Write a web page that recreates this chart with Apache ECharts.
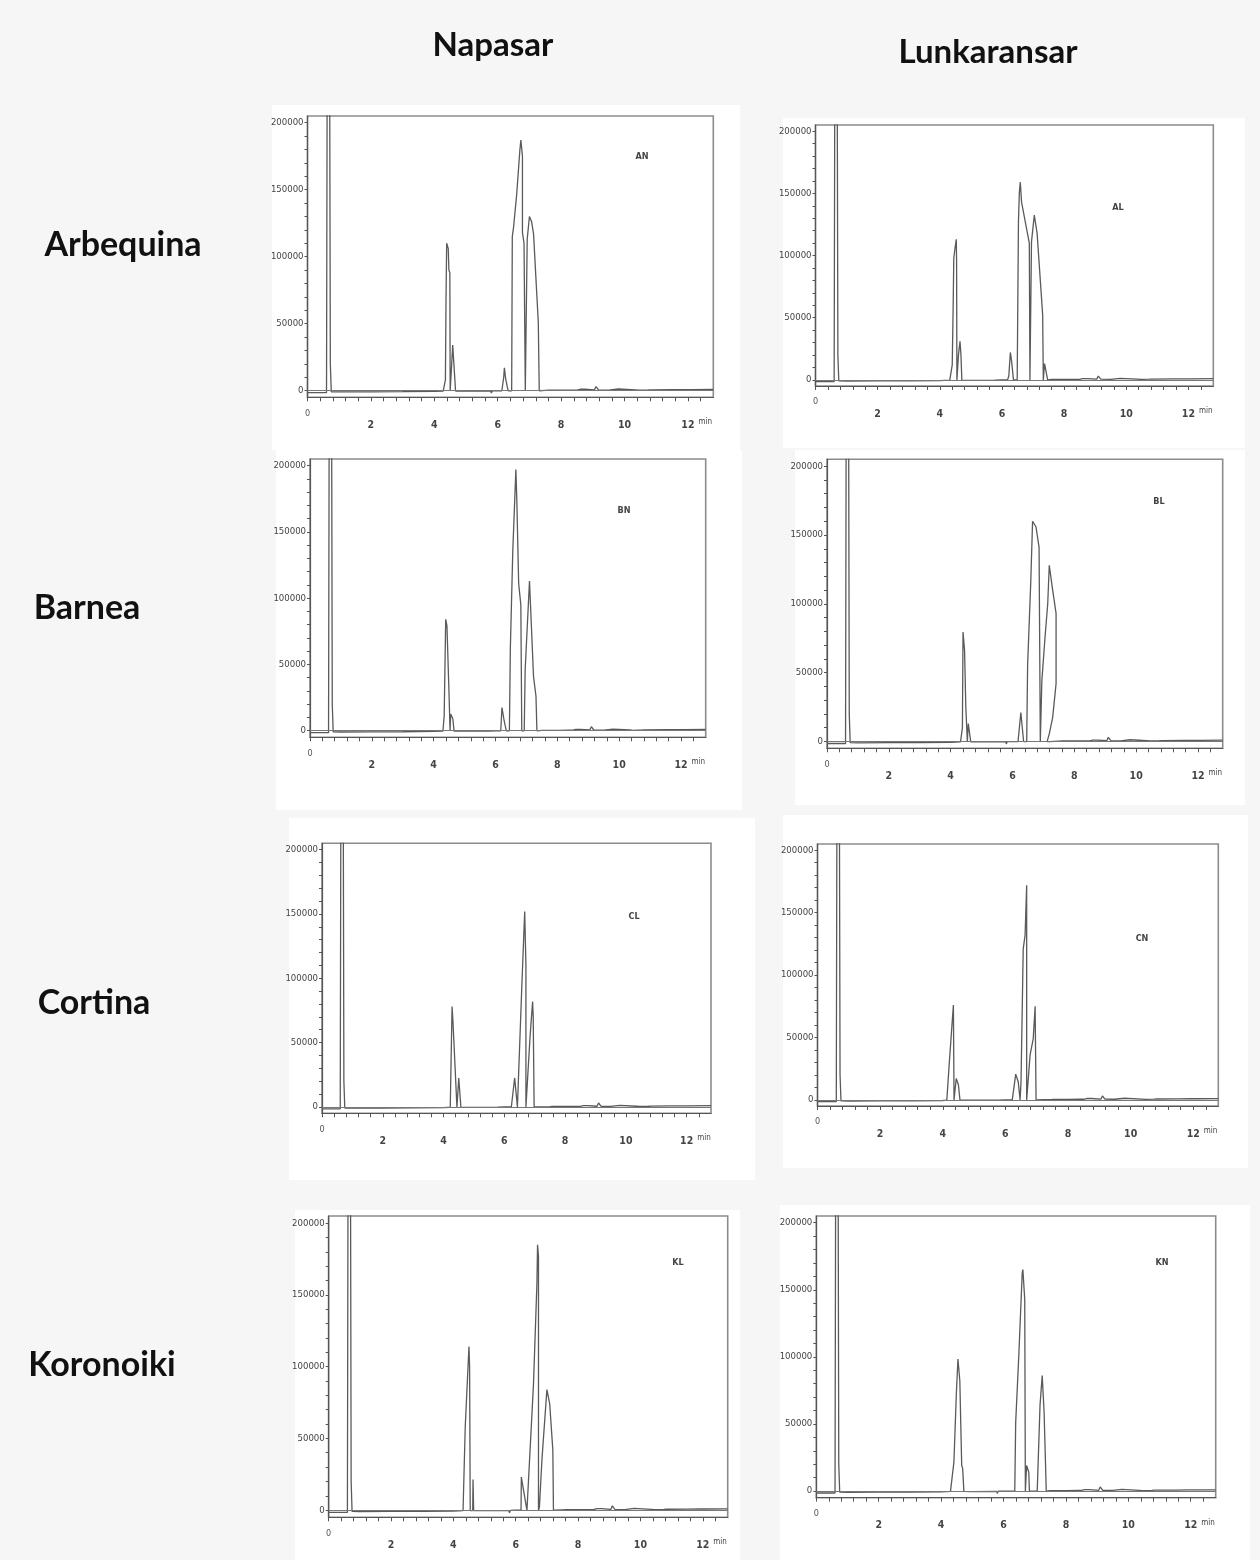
<!DOCTYPE html>
<html>
<head>
<meta charset="utf-8">
<script src="https://cdn.jsdelivr.net/npm/echarts@6/dist/echarts.min.js"></script>
<style>
html,body{margin:0;padding:0;background:#f6f6f6;}
#chart{width:1260px;height:1560px;}
</style>
</head>
<body>
<div id="chart"></div>
<script>
// ---------- text ----------
const columnTitles = ['Napasar', 'Lunkaransar'];
const rowTitles = ['Arbequina', 'Barnea', 'Cortina', 'Koronoiki'];
const panelCodes = ['AN', 'AL', 'BN', 'BL', 'CL', 'CN', 'KL', 'KN'];

// ---------- ticks ----------
const yTickValues = [0,10000,20000,30000,40000,50000,60000,70000,80000,90000,100000,110000,120000,130000,140000,150000,160000,170000,180000,190000,200000];
const yLabelValues = [0, 50000, 100000, 150000, 200000];
const xTickValues = [0,0.4,0.8,1.2,1.6,2,2.4,2.8,3.2,3.6,4,4.4,4.8,5.2,5.6,6,6.4,6.8,7.2,7.6,8,8.4,8.8,9.2,9.6,10,10.4,10.8,11.2,11.6,12,12.4];
const xLabelValues = [0, 2, 4, 6, 8, 10, 12];

// ---------- shared trace segments [min, signal] ----------
const leadIn = [[0,-1500],[0.6,-1500],[0.62,230000],[0.70,230000],[0.72,20000],[0.75,-900],[1.0,-1000],[2.0,-900],[3.0,-800],[4.0,-600]];
const midBaseline = [[5.0,-400],[5.78,-300],[5.8,-1800],[5.83,-200],[6.0,-100]];
const tail = [[7.5,200],[7.6,300],[7.63,1500],[7.66,200],[8.0,300],[8.4,400],[8.45,1500],[8.5,400],[8.6,1000],[8.65,300],[8.75,1000],[8.8,400],[9.05,500],[9.1,3000],[9.18,500],[9.5,400],[9.8,1200],[9.85,500],[10.35,500],[10.4,1600],[10.45,300],[10.5,600],[10.75,500],[10.8,1600],[10.85,600],[11.5,700],[11.95,800],[12.0,1200],[12.1,800],[12.8,900]];

// ---------- per-panel peaks ----------
const anFirst = [[4.28,-300],[4.35,8000],[4.37,70000],[4.39,110000],[4.44,106000],[4.46,90000],[4.49,88000],[4.5,-300],[4.53,12000],[4.58,34000],[4.62,19000],[4.66,18000],[4.67,-300]];
const anLater = [[6.13,-100],[6.19,10000],[6.21,17000],[6.25,9000],[6.3,3000],[6.33,-100],[6.44,-100],[6.46,115000],[6.5,122000],[6.6,147000],[6.7,180000],[6.73,187000],[6.78,175000],[6.78,118000],[6.83,110000],[6.87,-100],[6.92,-100],[6.93,113000],[7.0,130000],[7.07,126000],[7.13,117000],[7.28,51000],[7.31,-100]];

const alFirst = [[4.32,-300],[4.4,12000],[4.43,60000],[4.45,98000],[4.49,106000],[4.53,113000],[4.54,96000],[4.55,-300],[4.6,20000],[4.65,31000],[4.68,20000],[4.71,-300]];
const alLater = [[6.18,-100],[6.22,3000],[6.27,22000],[6.31,15000],[6.37,-100],[6.49,-100],[6.53,127000],[6.56,151000],[6.59,159000],[6.63,143000],[6.88,110000],[6.9,-100],[6.93,-100],[6.95,111000],[7.04,132500],[7.13,118000],[7.31,52000],[7.33,-100],[7.37,13000],[7.41,12000],[7.47,-100]];

const bnFirst = [[4.3,-300],[4.34,11000],[4.39,84000],[4.43,79000],[4.5,26000],[4.53,-300],[4.55,12500],[4.62,9000],[4.66,-300]];
const bnLater = [[6.17,-100],[6.21,17500],[6.28,7500],[6.35,-100],[6.45,-100],[6.48,61000],[6.56,136000],[6.66,197000],[6.69,174000],[6.75,111000],[6.82,95000],[6.85,-100],[6.93,-100],[6.96,46000],[7.1,113000],[7.23,41000],[7.31,26000],[7.34,-100]];

const blFirst = [[4.32,-300],[4.38,10000],[4.4,79500],[4.45,66000],[4.49,25000],[4.54,-300],[4.57,13000],[4.61,12000],[4.65,-300]];
const blLater = [[6.18,-100],[6.27,21000],[6.36,-100],[6.46,-100],[6.49,56000],[6.59,115000],[6.65,160000],[6.76,156000],[6.86,141000],[6.9,-100],[6.92,-100],[6.95,44000],[7.05,75000],[7.14,100000],[7.19,128000],[7.3,110000],[7.41,93000],[7.41,42000],[7.3,17500],[7.19,5500],[7.12,-100],[7.2,-100]];

const clFirst = [[4.22,-300],[4.28,78000],[4.31,66000],[4.44,-300],[4.5,22500],[4.53,22000],[4.57,-300]];
const clLater = [[6.23,-100],[6.34,22500],[6.43,-100],[6.45,-100],[6.58,97000],[6.67,152000],[6.71,110000],[6.71,-100],[6.72,-100],[6.85,56000],[6.93,82000],[6.95,70000],[6.98,-100]];

const cnFirst = [[4.13,-300],[4.21,30000],[4.34,76000],[4.36,-300],[4.43,17000],[4.5,12000],[4.55,-300]];
const cnLater = [[6.22,-100],[6.33,20500],[6.41,14500],[6.47,-100],[6.5,14500],[6.57,121000],[6.63,132000],[6.68,172000],[6.68,-100],[6.7,-100],[6.79,36000],[6.89,49000],[6.95,75000],[6.98,-100]];

const klFirst = [[4.31,-300],[4.38,58000],[4.5,114000],[4.52,100000],[4.54,-300],[4.62,-300],[4.63,21400],[4.65,-300]];
const klLater = [[6.17,-100],[6.18,23000],[6.36,-100],[6.57,88000],[6.68,158000],[6.7,185000],[6.73,177000],[6.73,-100],[6.76,2000],[6.84,35000],[7.0,84000],[7.09,74000],[7.19,42000],[7.21,-100]];

const knFirst = [[4.3,-300],[4.41,21500],[4.49,73600],[4.54,98400],[4.6,82000],[4.63,50000],[4.66,19000],[4.69,17000],[4.73,-300]];
const knLater = [[6.36,-100],[6.39,51000],[6.49,101000],[6.6,163000],[6.62,165000],[6.68,143000],[6.7,-100],[6.74,19000],[6.81,14000],[6.83,-100],[7.08,-100],[7.17,64000],[7.24,86000],[7.3,59000],[7.37,-100]];

const panelPeaks = [
  [anFirst, anLater], [alFirst, alLater],
  [bnFirst, bnLater], [blFirst, blLater],
  [clFirst, clLater], [cnFirst, cnLater],
  [klFirst, klLater], [knFirst, knLater]
];

// ---------- layout (pixels) ----------
const plotBoxes = [
  {l:307.5, t:116,    w:405.8, h:281.3},
  {l:815.5, t:125,    w:397.8, h:261},
  {l:310,   t:459,    w:395.7, h:278.3},
  {l:827,   t:459.3,  w:395.7, h:289},
  {l:322,   t:843.3,  w:389,   h:270},
  {l:817.5, t:844,    w:400.8, h:262},
  {l:328.7, t:1216,   w:399,   h:301.3},
  {l:816.3, t:1216,   w:399.4, h:281.7}
];
const panelBacks = [
  [272,105,468,345],[783,118,462,330],
  [276,450,466,360],[795,450,450,355],
  [289,818,466,362],[783,815,465,353],
  [295,1210,445,350],[780,1205,470,355]
];
const codePos = [[642,157],[1118,208],[624,511],[1159,502],[634,917],[1142,939],[678,1263],[1162,1263]];
const colTitlePos = [[493,45],[988,52]];
const rowTitlePos = [[123,245],[87,608],[94,1003],[102,1365]];

const narrow = "'Liberation Sans Narrow','DejaVu Sans Condensed','Roboto',sans-serif";
const bigFont = "Lato,'Open Sans',sans-serif";

const grids = [], xAxes = [], yAxes = [], series = [], titles = [], graphics = [];

panelBacks.forEach(b => graphics.push({
  type:'rect', silent:true, z:-100,
  shape:{x:b[0], y:b[1], width:b[2], height:b[3]},
  style:{fill:'#ffffff'}
}));

plotBoxes.forEach((g, i) => {
  grids.push({left:g.l, top:g.t, width:g.w, height:g.h, show:true,
    borderColor:'#8c8c8c', borderWidth:1.6, backgroundColor:'#ffffff'});
  xAxes.push({
    gridIndex:i, type:'value', min:0, max:12.8, position:'bottom',
    axisLine:{show:true, onZero:false, lineStyle:{color:'#555', width:1.2}},
    axisTick:{show:true, length:4, customValues:xTickValues, lineStyle:{color:'#555'}},
    axisLabel:{
      customValues:xLabelValues, margin:11, color:'#444', fontFamily:narrow,
      formatter: v => v === 0 ? '{z|0}' : '{n|' + v + '}',
      rich:{
        z:{fontSize:9, lineHeight:10, color:'#555', fontFamily:narrow},
        n:{fontSize:10.5, lineHeight:34, fontWeight:'bold', color:'#444', fontFamily:narrow}
      }
    },
    splitLine:{show:false},
    name:'min', nameLocation:'end', nameGap:-2,
    nameTextStyle:{align:'right', verticalAlign:'top', padding:[21,0,0,0], fontSize:8, color:'#444', fontFamily:narrow}
  });
  yAxes.push({
    gridIndex:i, type:'value', min:-5000, max:205000,
    axisLine:{show:true, onZero:false, lineStyle:{color:'#555', width:1.2}},
    axisTick:{show:true, length:3, customValues:yTickValues, lineStyle:{color:'#555'}},
    axisLabel:{customValues:yLabelValues, margin:4, fontSize:9.5, color:'#444', fontFamily:narrow,
      formatter: v => String(v)},
    splitLine:{show:false}
  });
  const pk = panelPeaks[i];
  const trace = [].concat(leadIn, pk[0], midBaseline, pk[1], tail);
  series.push({
    type:'line', xAxisIndex:i, yAxisIndex:i, data:trace,
    symbol:'none', showSymbol:false, clip:true, sampling:false,
    lineStyle:{color:'#5a5a5a', width:1.3},
    markLine:{silent:true, symbol:'none', label:{show:false},
      lineStyle:{color:'#777', width:1, type:'solid'}, data:[{yAxis:0}]},
    animation:false
  });
  titles.push({text:panelCodes[i], left:codePos[i][0], top:codePos[i][1],
    textAlign:'center', textVerticalAlign:'middle', padding:0,
    textStyle:{fontSize:9, fontWeight:'bold', color:'#444', fontFamily:narrow}});
});

columnTitles.forEach((t, i) => titles.push({text:t, left:colTitlePos[i][0], top:colTitlePos[i][1],
  textAlign:'center', textVerticalAlign:'middle', padding:0,
  textStyle:{fontSize:33, fontWeight:'bold', color:'#111', fontFamily:bigFont}}));
rowTitles.forEach((t, i) => titles.push({text:t, left:rowTitlePos[i][0], top:rowTitlePos[i][1],
  textAlign:'center', textVerticalAlign:'middle', padding:0,
  textStyle:{fontSize:34, fontWeight:'bold', color:'#111', fontFamily:bigFont}}));

const chart = echarts.init(document.getElementById('chart'), null, {renderer:'canvas'});
chart.setOption({
  backgroundColor:'#f6f6f6',
  animation:false,
  title:titles,
  graphic:{elements:graphics},
  grid:grids, xAxis:xAxes, yAxis:yAxes, series:series
});
</script>
</body>
</html>
